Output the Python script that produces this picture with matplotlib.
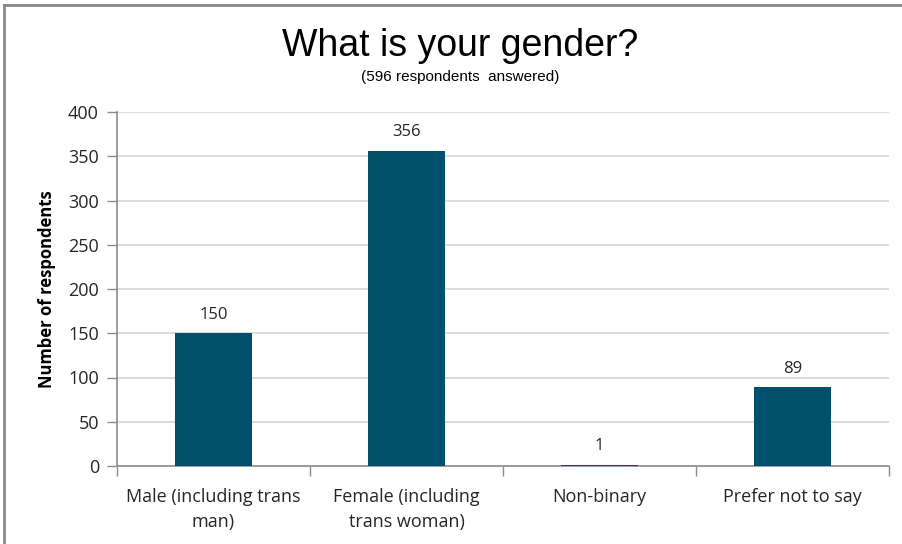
import matplotlib.pyplot as plt
from matplotlib.lines import Line2D

categories = ["Male (including trans\nman)", "Female (including\ntrans woman)",
              "Non-binary", "Prefer not to say"]
counts = [150, 356, 1, 89]
y_ticks = [0, 50, 100, 150, 200, 250, 300, 350, 400]

BAR = "#00506b"
GRID = "#d9d9d9"
AXIS = "#8c8c8c"
TEXT = "#262626"
FONT = ["Open Sans", "DejaVu Sans"]
TITLE_FONT = ["Liberation Sans", "DejaVu Sans"]

W, H = 903, 544
fig = plt.figure(figsize=(W / 100, H / 100), dpi=100)
ax = fig.add_axes([117 / W, 1 - 466 / H, (889 - 117) / W, (466 - 112) / H])

x = range(len(categories))
ax.bar(x, counts, width=0.4, color=BAR, zorder=3)
for i, v in enumerate(counts):
    ax.text(i, v + 12, str(v), ha="center", va="bottom", fontsize=12,
            color=TEXT, family=FONT)

ax.set_xlim(-0.5, len(categories) - 0.5)
ax.set_ylim(0, 400)
ax.set_yticks(y_ticks)
ax.set_yticklabels([str(t) for t in y_ticks], fontsize=13, color=TEXT, family=FONT)
ax.yaxis.grid(True, color=GRID, linewidth=1.3, zorder=0)
ax.tick_params(axis="y", length=7, width=1, color=AXIS, pad=6)

# category labels sit between the boundary ticks
ax.set_xticks([i - 0.5 for i in range(len(categories) + 1)])
ax.set_xticklabels([])
ax.set_xticks(list(x), minor=True)
ax.set_xticklabels(categories, minor=True, fontsize=13, color=TEXT,
                   family=FONT, linespacing=1.5)
ax.tick_params(axis="x", which="major", length=7, width=1, color=AXIS)
ax.tick_params(axis="x", which="minor", length=0, pad=16)

for s in ["top", "right"]:
    ax.spines[s].set_visible(False)
for s in ["left", "bottom"]:
    ax.spines[s].set_color(AXIS)
    ax.spines[s].set_linewidth(1.2)

ax.set_ylabel("Number of respondents", fontsize=12, fontweight="bold",
              color="black", family=FONT, labelpad=9)

fig.text(460 / W, 1 - 46 / H, "What is your gender?", ha="center", va="center",
         fontsize=27, color="black", family=TITLE_FONT)
fig.text(460 / W, 1 - 77 / H, "(596 respondents  answered)", ha="center",
         va="center", fontsize=11, color="black", family=TITLE_FONT)

# outer frame (top and left edges)
fig.add_artist(Line2D([4.5 / W, 4.5 / W], [0, 1 - 5 / H], color="#888888",
                      linewidth=2, transform=fig.transFigure))
fig.add_artist(Line2D([4.5 / W, 1], [1 - 5 / H, 1 - 5 / H], color="#888888",
                      linewidth=2, transform=fig.transFigure))

fig.savefig("out.png", dpi=100, facecolor="white")
